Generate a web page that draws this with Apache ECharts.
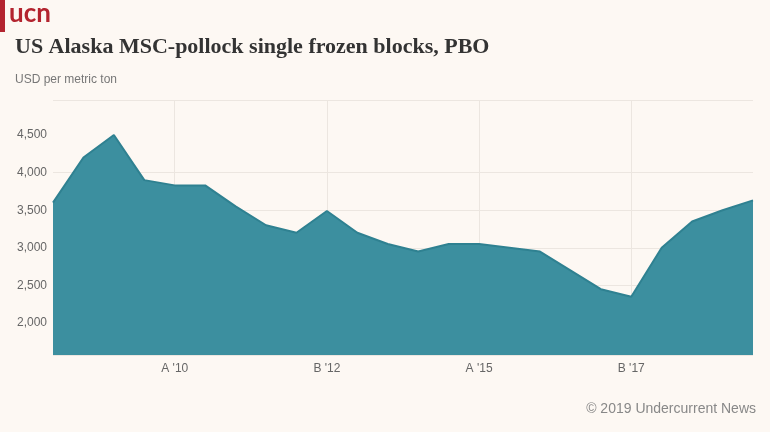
<!DOCTYPE html>
<html>
<head>
<meta charset="utf-8">
<script src="https://cdn.jsdelivr.net/npm/echarts@6/dist/echarts.min.js"></script>
<style>
  html, body { margin: 0; padding: 0; background: #fdf8f3; }
  #chart { width: 770px; height: 432px; }
</style>
</head>
<body>
<div id="chart"></div>
<script>
const categories = ["A '08","B '08","A '09","B '09","A '10","B '10","A '11","B '11","A '12","B '12",
  "A '13","B '13","A '14","B '14","A '15","B '15","A '16","B '16","A '17","B '17",
  "A '18","B '18","A '19","B '19"];
const prices = [3600, 4200, 4500, 3900, 3830, 3830, 3550, 3300, 3200, 3490,
  3200, 3050, 2950, 3050, 3050, 3000, 2950, 2700, 2450, 2350,
  3000, 3350, 3500, 3630];
const yTicks = [2000, 2500, 3000, 3500, 4000, 4500];
const shownLabels = [4, 9, 14, 19];

const chart = echarts.init(document.getElementById('chart'));
chart.setOption({
  backgroundColor: '#fdf8f3',
  animation: false,
  graphic: [
    { type: 'rect', left: 0, top: 0, shape: { width: 5, height: 32 }, style: { fill: '#b3242f' } },
    { type: 'text', left: 9, top: 1, style: { text: 'ucn', fill: '#b3242f', font: 'bold 26px Lato, sans-serif' } },
    { type: 'text', left: 15, top: 36, style: { text: 'US Alaska MSC-pollock single frozen blocks, PBO', fill: '#333', font: 'bold 22px "Liberation Serif", serif' } },
    { type: 'text', left: 15, top: 74, style: { text: 'USD per metric ton', fill: '#777', font: '12px "Liberation Sans", Arial, sans-serif' } },
    { type: 'text', right: 14, top: 402, style: { text: '© 2019 Undercurrent News', fill: '#888', font: '14px "Liberation Sans", Arial, sans-serif' } }
  ],
  grid: { left: 53, right: 17, top: 100, bottom: 77 },
  xAxis: {
    type: 'category',
    data: categories,
    boundaryGap: false,
    axisLine: { show: false },
    axisTick: { show: false },
    axisLabel: {
      interval: (i) => shownLabels.includes(i),
      color: '#666', fontSize: 12, margin: 8,
      fontFamily: 'Liberation Sans, Arial, sans-serif'
    },
    splitLine: {
      show: true,
      interval: (i) => shownLabels.includes(i),
      lineStyle: { color: '#ece6e0' }
    }
  },
  yAxis: {
    type: 'value',
    min: 1575,
    max: 4965,
    axisLine: { show: false },
    axisTick: { show: false },
    axisLabel: {
      customValues: yTicks,
      color: '#666', fontSize: 12, margin: 36,
      align: 'left',
      fontFamily: 'Liberation Sans, Arial, sans-serif',
      formatter: (v) => v.toLocaleString('en-US')
    },
    splitLine: { show: true, customValues: yTicks, lineStyle: { color: ['#ece6e0', '#ece6e0', '#ece6e0', '#ece6e0', '#ece6e0', '#ece6e0', 'rgba(0,0,0,0)'] } }
  },
  series: [{
    type: 'line',
    data: prices,
    symbol: 'none',
    z: 1,
    lineStyle: { color: '#2f8191', width: 2 },
    areaStyle: { color: '#3c8f9f', opacity: 1 }
  }]
});
</script>
</body>
</html>
